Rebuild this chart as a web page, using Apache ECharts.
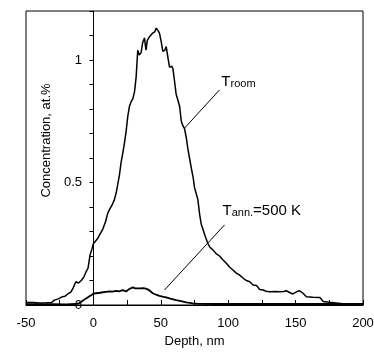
<!DOCTYPE html>
<html>
<head>
<meta charset="utf-8">
<script src="https://cdn.jsdelivr.net/npm/echarts@6/dist/echarts.min.js"></script>
<style>html,body{margin:0;padding:0;background:#fff}#c{width:374px;height:352px}</style>
</head>
<body>
<div id="c"></div>
<script>
// Depth (nm) and concentration (at.%) for T_room
const roomDepth = [-50,-45,-40,-35,-31,-29,-26,-23,-21,-19,-16.6,-15,-13,-11,-9,-7,-5.4,-4,-2.5,-1,0,1.5,3,5,7,9,10.6,12,14,15.6,17,18,19.3,20.5,21.8,23,24.3,25.5,26.7,28,29.2,30.5,31.7,32.9,34,35.4,36.5,37.9,39,40,41.6,43,44,45.5,46.6,48,49,50.3,51.5,53,54,55,56.5,58,59,60.5,61.4,62.5,64,65.2,66.5,67.6,69,70,71.3,72.6,74,75,76.5,77.5,78.8,80,81.2,83,85,86.5,88.6,91,93.6,96,98.6,101,103.5,106,108.5,111,113.4,116,118.4,121,123.3,126,128,131,135,138,141,143,146,148,151,153,155.5,158,163,168,170.5,175,180,185,190,195,200];
const roomConc = [0.010,0.010,0.008,0.009,0.010,0.020,0.025,0.034,0.036,0.045,0.054,0.070,0.095,0.090,0.100,0.115,0.136,0.150,0.204,0.230,0.250,0.260,0.270,0.290,0.310,0.340,0.374,0.390,0.410,0.430,0.460,0.490,0.530,0.580,0.620,0.660,0.710,0.770,0.810,0.830,0.840,0.870,0.930,1.040,1.020,1.030,1.070,1.090,1.040,1.080,1.095,1.100,1.110,1.115,1.130,1.120,1.110,1.075,1.035,1.040,1.055,1.020,0.970,0.975,0.965,0.900,0.860,0.840,0.810,0.750,0.730,0.720,0.680,0.640,0.600,0.560,0.520,0.480,0.450,0.430,0.370,0.330,0.310,0.280,0.250,0.235,0.225,0.210,0.200,0.185,0.170,0.155,0.143,0.130,0.122,0.110,0.100,0.095,0.082,0.080,0.063,0.061,0.056,0.054,0.055,0.054,0.055,0.058,0.050,0.045,0.055,0.058,0.048,0.034,0.032,0.031,0.014,0.011,0.008,0.005,0.005,0.005,0.005];
// Depth (nm) and concentration (at.%) for T_ann = 500 K
const annDepth = [-50,-40,-30,-20,-16.6,-13,-10.4,-8,-5.4,-3.5,-1.7,0,2,5,7,9.4,12,14,17,19,21.8,24.3,26,29.2,31,34.2,37,39,41,44,47,49,52,54,57,61.4,65,68.9,73.8,78,90,110,130,150,170,200];
const annConc = [0.003,0.003,0.003,0.002,0.003,0.004,0.008,0.017,0.027,0.034,0.040,0.046,0.048,0.050,0.052,0.054,0.056,0.055,0.058,0.056,0.061,0.055,0.063,0.072,0.068,0.068,0.069,0.067,0.062,0.048,0.041,0.037,0.033,0.031,0.026,0.020,0.016,0.011,0.007,0.005,0.004,0.004,0.004,0.004,0.004,0.004];
// Axis ticks
const xTicks = [-50, 0, 50, 100, 150, 200];
const yTickLabels = [0, 0.5, 1];

const FONT = '"Liberation Sans", Arial, sans-serif';
const chart = echarts.init(document.getElementById('c'), null, {renderer: 'canvas'});

const pair = (xs, ys) => xs.map((x, i) => [x, ys[i]]);

chart.setOption({
  animation: false,
  backgroundColor: '#fff',
  grid: {left: 26, right: 11, top: 11, bottom: 47, show: true, borderColor: '#000', borderWidth: 1,
    containLabel: false, outerBoundsMode: 'none'},
  xAxis: {
    type: 'value', min: xTicks[0], max: xTicks[xTicks.length - 1], interval: 50,
    axisLine: {show: true, onZero: false, lineStyle: {color: '#000', width: 1}},
    axisTick: {show: true, inside: true, length: 5, lineStyle: {color: '#000'}},
    minorTick: {show: true, splitNumber: 2, length: 5, lineStyle: {color: '#000'}},
    splitLine: {show: false},
    axisLabel: {color: '#000', fontFamily: FONT, fontSize: 13, margin: 12, hideOverlap: false},
    name: 'Depth, nm', nameLocation: 'middle', nameGap: 26,
    nameTextStyle: {color: '#000', fontFamily: FONT, fontSize: 13}
  },
  yAxis: {
    type: 'value', min: 0, max: 1.2, interval: 0.1, position: 'left',
    axisLine: {show: true, onZero: true, lineStyle: {color: '#000', width: 1}},
    axisTick: {show: true, inside: false, length: 4, lineStyle: {color: '#000'}},
    splitLine: {show: false},
    // labels sit beside the y axis drawn at depth 0
    axisLabel: {color: '#000', fontFamily: FONT, fontSize: 13, margin: -56, hideOverlap: false,
      formatter: v => {
        const t = yTickLabels.find(t => Math.abs(t - v) < 1e-6);
        return t === undefined ? '' : String(t);
      }}
  },
  series: [{
    name: 'T_room', type: 'line', data: pair(roomDepth, roomConc), showSymbol: false, z: 3,
    lineStyle: {color: '#000', width: 1.5}, itemStyle: {color: '#000'},
    markLine: {
      silent: true, symbol: 'none', label: {show: false},
      lineStyle: {color: '#000', width: 1, type: 'solid'},
      data: [
        [{coord: [93.6, 0.878]}, {coord: [67.6, 0.722]}],
        [{coord: [97.3, 0.327]}, {coord: [52.7, 0.061]}]
      ]
    }
  }, {
    name: 'T_ann', type: 'line', data: pair(annDepth, annConc), showSymbol: false, z: 4,
    lineStyle: {color: '#000', width: 1.8}, itemStyle: {color: '#000'}
  }]
});

const p1 = chart.convertToPixel({gridIndex: 0}, [94.9, 0.892]);
const p2 = chart.convertToPixel({gridIndex: 0}, [95.8, 0.365]);
const rich = {
  b: {fontFamily: FONT, fontSize: 15, fill: '#000', verticalAlign: 'bottom'},
  s: {fontFamily: FONT, fontSize: 11, fill: '#000', verticalAlign: 'bottom'}
};
chart.setOption({
  graphic: [
    {type: 'text', x: p1[0], y: p1[1] + 3, style: {text: '{b|T}{s|room}', rich: rich, fill: '#000', align: 'left', verticalAlign: 'bottom'}},
    {type: 'text', x: p2[0], y: p2[1] + 3, style: {text: '{b|T}{s|ann.}{b|=500 K}', rich: rich, fill: '#000', align: 'left', verticalAlign: 'bottom'}},
    {type: 'text', x: 46, y: 140.5, rotation: Math.PI / 2,
      style: {text: 'Concentration, at.%', fontFamily: FONT, fontSize: 13, fill: '#000', align: 'center', verticalAlign: 'middle'}}
  ]
});
</script>
</body>
</html>
